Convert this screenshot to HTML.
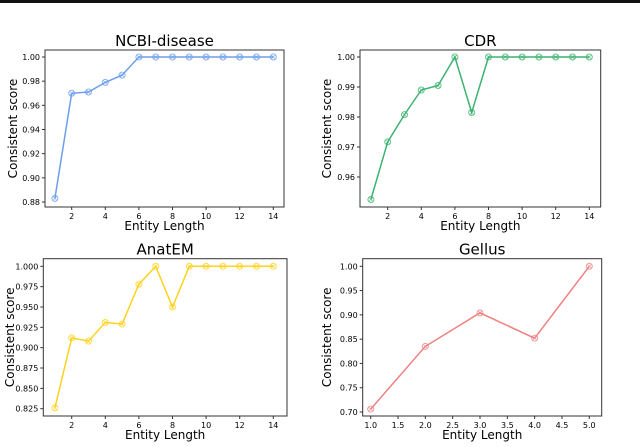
<!DOCTYPE html>
<html><head><meta charset="utf-8"><style>
body{margin:0;background:#fff;}
svg text{font-family:"DejaVu Sans","Liberation Sans",sans-serif;fill:#000;}
</style></head><body>
<svg id="fig" width="640" height="442" viewBox="0 0 640 442" xmlns="http://www.w3.org/2000/svg">
<rect x="0" y="0" width="640" height="3" fill="#111"/>
</svg>
<script>
const ncbiX=[1,2,3,4,5,6,7,8,9,10,11,12,13,14];
const ncbiY=[0.883,0.970,0.971,0.979,0.985,1,1,1,1,1,1,1,1,1];
const ncbiYTicks=[0.88,0.90,0.92,0.94,0.96,0.98,1.00];
const cdrX=[1,2,3,4,5,6,7,8,9,10,11,12,13,14];
const cdrY=[0.9525,0.9717,0.9808,0.989,0.9905,1.0,0.9815,1,1,1,1,1,1,1];
const cdrYTicks=[0.96,0.97,0.98,0.99,1.00];
const anatX=[1,2,3,4,5,6,7,8,9,10,11,12,13,14];
const anatY=[0.826,0.912,0.908,0.931,0.929,0.978,1.0,0.950,1,1,1,1,1,1];
const anatYTicks=[0.825,0.850,0.875,0.900,0.925,0.950,0.975,1.000];
const lenTicks=[2,4,6,8,10,12,14];
const gellX=[1,2,3,4,5];
const gellY=[0.706,0.835,0.904,0.852,1.0];
const gellYTicks=[0.70,0.75,0.80,0.85,0.90,0.95,1.00];
const gellXTicks=[1.0,1.5,2.0,2.5,3.0,3.5,4.0,4.5,5.0];

const NS="http://www.w3.org/2000/svg";
const svg=document.getElementById('fig');
function mk(tag,attrs,parent){const e=document.createElementNS(NS,tag);for(const k in attrs)e.setAttribute(k,attrs[k]);(parent||svg).appendChild(e);return e;}

function panel(o){
  const g=mk('g',{});
  
  
  const sx=v=>o.px0+(v-o.x0)*(o.px1-o.px0)/(o.x1-o.x0);
  const sy=v=>o.py0+(v-o.y0)*(o.py1-o.py0)/(o.y1-o.y0);
  // frame
  const fr=mk('rect',{x:o.L,y:o.T,width:o.R-o.L,height:o.B-o.T,fill:'none',stroke:'#333','stroke-width':1},g);
  
  
  o.yt.forEach(v=>{
    const y=sy(v);
    mk('line',{x1:o.L-3,x2:o.L,y1:y,y2:y,stroke:'#333'},g);
    const t=mk('text',{x:o.L-5,y:y+3,'font-size':8,'text-anchor':'end'},g);
    t.textContent=v.toFixed(o.yd);
    
    
  });
  o.xt.forEach(v=>{
    const x=sx(v);
    mk('line',{x1:x,x2:x,y1:o.B,y2:o.B+3,stroke:'#333'},g);
    const t=mk('text',{x:x,y:o.B+12,'font-size':8,'text-anchor':'middle'},g);
    t.textContent=v.toFixed(o.xd);
    
    
  });
  const pts=o.xs.map((v,i)=>sx(v).toFixed(1)+','+sy(o.ys[i]).toFixed(1)).join(' ');
  const pl=mk('polyline',{points:pts,fill:'none',stroke:o.c,'stroke-width':1.5},g);
  
  
  o.xs.forEach((v,i)=>{
    const x=sx(v),y=sy(o.ys[i]);
    const c=mk('circle',{cx:x,cy:y,r:3,fill:'none',stroke:o.c,'stroke-width':1,opacity:0.8},g);
    
    
    mk('path',{d:`M${x-2},${y-2}L${x+2},${y+2}M${x-2},${y+2}L${x+2},${y-2}`,stroke:o.c,'stroke-width':0.8,opacity:0.7},g);
  });
  const ti=mk('text',{x:(o.L+o.R)/2,y:o.T-4,'font-size':15,'text-anchor':'middle'},g);
  ti.textContent=o.title;
  
  
  const yl=mk('text',{x:0,y:0,'font-size':12,'text-anchor':'middle',transform:`translate(${o.ylx},${(o.T+o.B)/2}) rotate(-90)`},g);
  yl.textContent='Consistent score';
  
  
  const xl=mk('text',{x:(o.L+o.R)/2,y:o.B+23,'font-size':12,'text-anchor':'middle'},g);
  xl.textContent='Entity Length';
  
  
}
panel({name:'ncbi',title:'NCBI-disease',L:45,R:284,T:50,B:207,x0:2,x1:14,px0:71.7,px1:273.3,y0:1.0,y1:0.88,py0:57,py1:202,xs:ncbiX,ys:ncbiY,yt:ncbiYTicks,xt:lenTicks,yd:2,xd:0,c:'#6d9eeb',ylx:17});
panel({name:'cdr',title:'CDR',L:360,R:600.7,T:50,B:207,x0:2,x1:14,px0:387.7,px1:589.3,y0:1.0,y1:0.96,py0:57,py1:177,xs:cdrX,ys:cdrY,yt:cdrYTicks,xt:lenTicks,yd:2,xd:0,c:'#3cb371',ylx:331});
panel({name:'anatem',title:'AnatEM',L:43.3,R:287,T:258.7,B:416,x0:2,x1:14,px0:71.7,px1:273.3,y0:1.0,y1:0.825,py0:266.3,py1:408.7,xs:anatX,ys:anatY,yt:anatYTicks,xt:lenTicks,yd:3,xd:0,c:'#ffd21f',ylx:14});
panel({name:'gellus',title:'Gellus',L:362.7,R:601.7,T:258.7,B:416,x0:1,x1:5,px0:370.7,px1:589.3,y0:1.0,y1:0.70,py0:266.3,py1:412,xs:gellX,ys:gellY,yt:gellYTicks,xt:gellXTicks,yd:2,xd:1,c:'#f08080',ylx:331});
</script>
</body></html>
